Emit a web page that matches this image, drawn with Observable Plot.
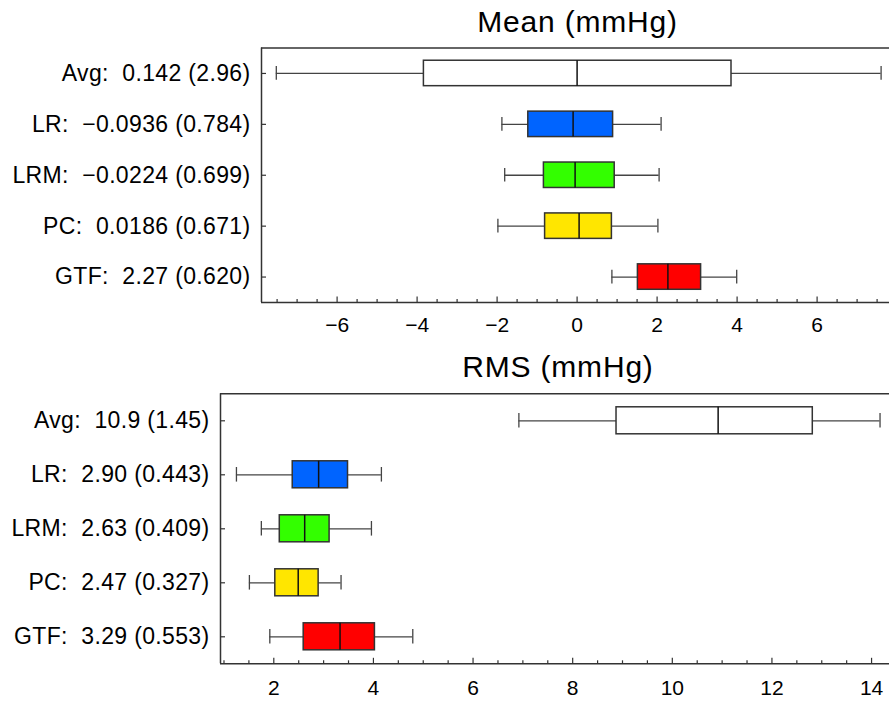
<!DOCTYPE html>
<html>
<head>
<meta charset="utf-8">
<script src="https://cdn.jsdelivr.net/npm/d3@7"></script>
<script src="https://cdn.jsdelivr.net/npm/@observablehq/plot@0.6"></script>
<style>
  body { margin: 0; background: #fff; }
  #chart svg { display: block; }
  #chart .row-label text { letter-spacing: 0.35px; }
  #chart .panel-title text { letter-spacing: 0.8px; }
</style>
</head>
<body>
<div id="chart"></div>
<script>
// Methods, top to bottom, and their box colours
const methods = ["Avg", "LR", "LRM", "PC", "GTF"];
const fills = ["#ffffff", "#0064ff", "#33ff00", "#ffe600", "#ff0000"];

// Mean error (mmHg): stated mean (sd) and box-plot summary
const meanStat = ["0.142", "\u22120.0936", "\u22120.0224", "0.0186", "2.27"];
const meanSd = ["2.96", "0.784", "0.699", "0.671", "0.620"];
const meanLo = [-7.52, -1.88, -1.81, -1.98, 0.87];
const meanQ1 = [-3.83, -1.22, -0.83, -0.80, 1.52];
const meanMed = [0.0, -0.10, -0.05, 0.05, 2.27];
const meanQ3 = [3.86, 0.90, 0.94, 0.87, 3.10];
const meanHi = [7.60, 2.10, 2.05, 2.02, 3.99];
const meanTicks = [-6, -4, -2, 0, 2, 4, 6];

// RMS error (mmHg): stated mean (sd) and box-plot summary
const rmsStat = ["10.9", "2.90", "2.63", "2.47", "3.29"];
const rmsSd = ["1.45", "0.443", "0.409", "0.327", "0.553"];
const rmsLo = [6.92, 1.25, 1.75, 1.51, 1.92];
const rmsQ1 = [8.88, 2.38, 2.12, 2.03, 2.60];
const rmsMed = [10.92, 2.90, 2.62, 2.49, 3.33];
const rmsQ3 = [12.82, 3.49, 3.12, 2.90, 4.03];
const rmsHi = [14.17, 4.16, 3.96, 3.35, 4.79];
const rmsTicks = [2, 4, 6, 8, 10, 12, 14];

const W = 889;
const ink = "#333";
const fmt = v => (v < 0 ? "\u2212" + Math.abs(v) : String(v));

function panel(o) {
  const rows = methods.map((m, i) => ({
    i,
    label: `${m}:\u00a0\u00a0${o.stat[i]} (${o.sd[i]})`,
    fill: fills[i],
    lo: o.lo[i], q1: o.q1[i], med: o.med[i], q3: o.q3[i], hi: o.hi[i]
  }));
  const frameW = W - o.marginLeft;
  const frameH = o.height - o.marginTop - o.marginBottom;
  const minor = d3.range(Math.ceil(o.domain[0] * 2) / 2, o.domain[1], 0.5)
    .filter(v => !o.ticks.includes(v));
  const cap = 0.135, half = 0.25;
  return Plot.plot({
    width: W,
    height: o.height,
    marginTop: o.marginTop,
    marginBottom: o.marginBottom,
    marginLeft: o.marginLeft,
    marginRight: 0,
    style: {fontFamily: "'Liberation Sans', Arial, sans-serif", color: "#000", background: "#fff", overflow: "visible"},
    x: {domain: o.domain, axis: null},
    y: {domain: [-0.5, 4.5], reverse: true, axis: null},
    marks: [
      // whiskers with end caps
      Plot.ruleY(rows, {y: "i", x1: "lo", x2: "hi", stroke: "#444", strokeWidth: 1.3}),
      Plot.ruleX(rows, {x: "lo", y1: d => d.i - cap, y2: d => d.i + cap, stroke: "#444", strokeWidth: 1.3}),
      Plot.ruleX(rows, {x: "hi", y1: d => d.i - cap, y2: d => d.i + cap, stroke: "#444", strokeWidth: 1.3}),
      // interquartile boxes and medians
      Plot.rect(rows, {x1: "q1", x2: "q3", y1: d => d.i - half, y2: d => d.i + half, fill: "fill", stroke: ink, strokeWidth: 1.5}),
      Plot.ruleX(rows, {x: "med", y1: d => d.i - half, y2: d => d.i + half, stroke: "#111", strokeWidth: 1.5}),
      // frame: left edge, top edge, bottom axis line
      Plot.ruleX([o.domain[0]], {stroke: ink, strokeWidth: 1.5}),
      Plot.ruleY([-0.5], {stroke: ink, strokeWidth: 1.5}),
      Plot.ruleY([4.5], {stroke: ink, strokeWidth: 1.5}),
      // inward ticks
      Plot.ruleX(o.ticks, {x: d => d, insetTop: frameH - 5.5, stroke: ink, strokeWidth: 1.2}),
      Plot.ruleX(minor, {x: d => d, insetTop: frameH - 3, stroke: ink, strokeWidth: 1.2}),
      Plot.ruleY(rows, {y: "i", insetRight: frameW - 5, stroke: ink, strokeWidth: 1.2}),
      // tick labels
      Plot.text(o.ticks, {x: d => d, frameAnchor: "bottom", lineAnchor: "middle", dy: o.tickDy, text: fmt, fontSize: 21, fill: "#000"}),
      // row labels
      Plot.text(rows, {y: "i", text: "label", frameAnchor: "left", lineAnchor: "middle", dx: -11, textAnchor: "end", fontSize: 23, fill: "#000", className: "row-label"}),
      // panel title
      Plot.text([o.title], {text: d => d, frameAnchor: "top", lineAnchor: "middle", dx: o.titleDx, dy: o.titleDy, fontSize: 30, fill: "#000", className: "panel-title"})
    ]
  });
}

const chart = document.getElementById("chart");
chart.append(panel({
  title: "Mean (mmHg)",
  stat: meanStat, sd: meanSd, lo: meanLo, q1: meanQ1, med: meanMed, q3: meanQ3, hi: meanHi,
  ticks: meanTicks, domain: [-7.89, 7.81],
  height: 340, marginTop: 47.5, marginBottom: 38, marginLeft: 261,
  tickDy: 23, titleDx: 2, titleDy: -25.4
}));
chart.append(panel({
  title: "RMS (mmHg)",
  stat: rmsStat, sd: rmsSd, lo: rmsLo, q1: rmsQ1, med: rmsMed, q3: rmsQ3, hi: rmsHi,
  ticks: rmsTicks, domain: [0.93, 14.36],
  height: 362, marginTop: 53.3, marginBottom: 38.7, marginLeft: 220,
  tickDy: 24, titleDx: 3, titleDy: -26.9
}));
</script>
</body>
</html>
